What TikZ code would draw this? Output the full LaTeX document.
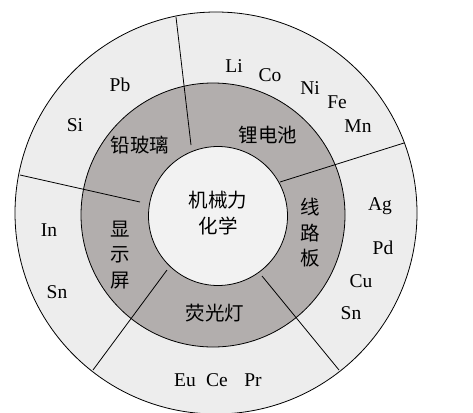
\documentclass[tikz,border=0pt]{standalone}
\usepackage{fontspec}
\setmainfont{Liberation Serif}
\newfontfamily\cjk{Noto Sans CJK SC}
\definecolor{ringout}{HTML}{EDEDED}
\definecolor{ringmid}{HTML}{B2AEAD}
\definecolor{ringin}{HTML}{F2F2F2}
\begin{document}
\begin{tikzpicture}[x=1pt,y=-1pt,
  el/.style={font=\fontsize{19.5}{22}\selectfont},
  zh/.style={font=\cjk\fontsize{19.5}{25.5}\selectfont,align=center},
  cut/.style={line width=0.8pt}]
\useasboundingbox (0,0) rectangle (473,412);
\fill[white] (0,0) rectangle (473,412);
% rings
\draw[cut,fill=ringout] (216,213) circle[radius=201pt];
\draw[cut,fill=ringmid] (213,215) circle[radius=132pt];
\draw[cut,fill=ringin] (218,216) circle[radius=69.5pt];
% dividing lines
\draw[cut] (191,145) -- (176,17);
\draw[cut] (280,182) -- (404,143);
\draw[cut] (140,202) -- (20,175);
\draw[cut] (167,270) -- (93,370);
\draw[cut] (262,276) -- (339,370);
% centre
\node[zh] (core) at (218,213) {机械力\\化学};
% middle ring
\node[zh] (glass) at (140,145) {铅玻璃};
\node[zh] (battery) at (268,135) {锂电池};
\node[zh] (board) at (310,233) {线\\路\\板};
\node[zh] (screen) at (120,255) {显\\示\\屏};
\node[zh] (lamp) at (215,313) {荧光灯};
% outer ring
\node[el] (li) at (234,66) {Li};
\node[el] (co) at (270,75) {Co};
\node[el] (ni) at (310,88) {Ni};
\node[el] (fe) at (337,102) {Fe};
\node[el] (mn) at (358,126) {Mn};
\node[el] (pb) at (120,85) {Pb};
\node[el] (si) at (75,125) {Si};
\node[el] (in) at (49,230) {In};
\node[el] (sna) at (57,292) {Sn};
\node[el] (ag) at (380,206) {Ag};
\node[el] (pd) at (383,248) {Pd};
\node[el] (cu) at (361,281) {Cu};
\node[el] (snb) at (351,313) {Sn};
\node[el] (eu) at (185,380) {Eu};
\node[el] (ce) at (217,380) {Ce};
\node[el] (pr) at (253,380) {Pr};
\end{tikzpicture}
\end{document}
